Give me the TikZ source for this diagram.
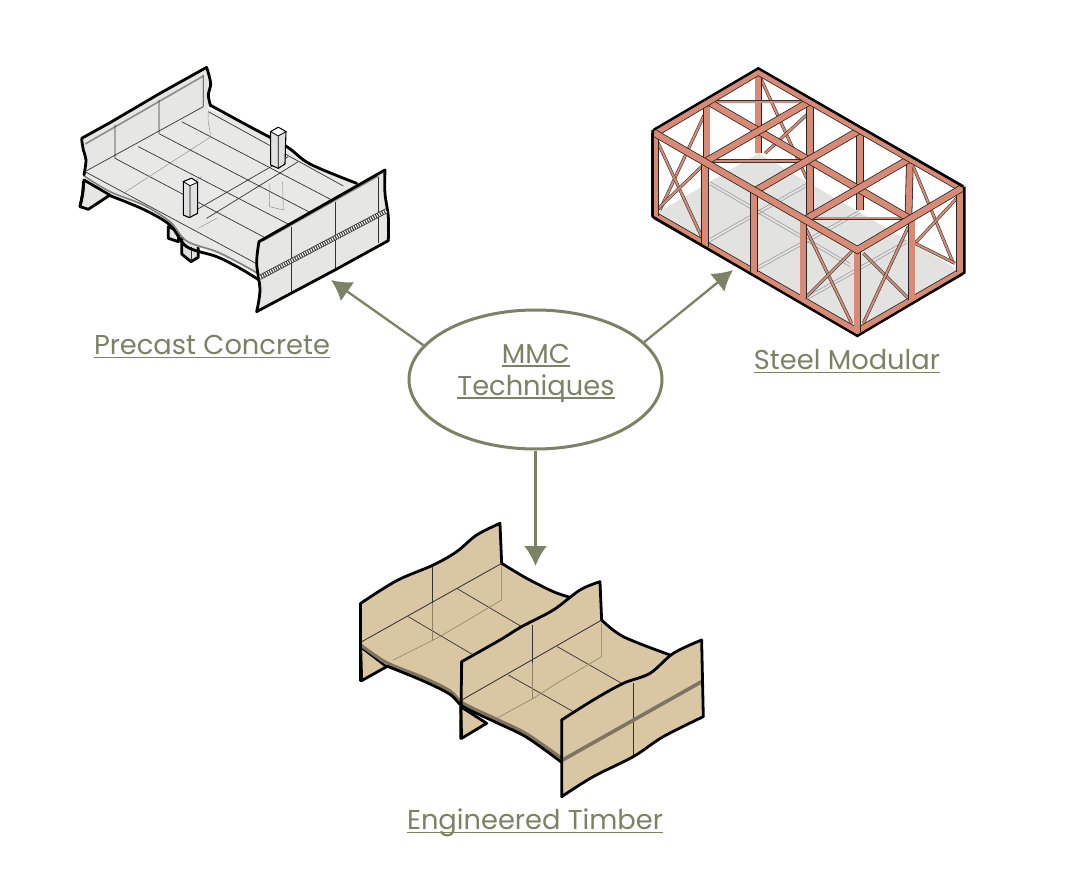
\documentclass[tikz,border=0pt]{standalone}
\usepackage{fontspec}
\setmainfont{Poppins}
\usetikzlibrary{positioning, shapes.geometric, arrows.meta}

\definecolor{olive}{HTML}{7C8265}
\definecolor{salmon}{HTML}{D98A74}
\definecolor{timber}{HTML}{D9C6A2}
\definecolor{band}{HTML}{7E7462}
\definecolor{concrete}{HTML}{E6E6E4}
\definecolor{floorgrey}{HTML}{E2E2E0}
\definecolor{grain}{HTML}{8F8263}

\newcommand{\ulabel}[1]{\leavevmode\setbox0\hbox{#1}\rlap{\rule[-3.6pt]{\wd0}{1.3pt}}\box0}

\tikzset{
	smoothline/.style={smooth, tension=0.55},
}

\begin{document}
\begin{tikzpicture}[
		x=1pt, y=-1pt,
		label/.style={text=olive, font=\fontsize{27.3}{32}\selectfont, align=center, inner sep=0pt},
		hub/.style={draw=olive, ellipse, line width=3pt, minimum width=253pt, minimum height=139pt, inner sep=0pt},
		link/.style={draw=olive, line width=2.3pt, -{Latex[length=20pt, width=23pt]}},
		zoomed/.style={x=0.3333pt, y=-0.3333pt},
		outline/.style={line width=2.8pt, line join=round, line cap=round},
		joint/.style={line width=0.7pt, draw=black!80},
		ghost/.style={line width=0.45pt, draw=black!45},
		woodghost/.style={line width=0.6pt, draw=grain},
		wall/.style={fill=concrete},
		slab/.style={fill=concrete!90!white},
		wood/.style={fill=timber},
		beam/.style={draw=black!85, line width=0.8pt, double=salmon, double distance=6pt},
		brace/.style={draw=black!80, line width=0.55pt, double=salmon, double distance=2pt},
	]
	\useasboundingbox (0,0) rectangle (1065,874);

	%% ── Precast concrete ───────────────────────────────────────────────
	\begin{scope}[shift={(60,50)}, zoomed]
		% under the slab
		\filldraw[wall, outline] (72,390) -- plot[smoothline] coordinates {(72,390) (68,430) (60,470)} -- (85,478) -- (150,435) -- cycle;
		\filldraw[wall, outline] (325,530) -- (325,565) -- (355,575) -- (358,545) -- cycle;
		\filldraw[fill=black!12, outline] (365,565) -- (365,612) -- (393,635) -- (415,622) -- (415,570) -- cycle;
		\draw[joint] (393,590) -- (393,635);
		% slab
		\fill[slab] (75,368) -- (430,170) -- plot[smoothline] coordinates {(430,170) (560,225) (680,290) (750,342) (900,405)} -- (597,640) -- (597,680) -- plot[smoothline] coordinates {(597,680) (540,645) (470,612) (380,575) (330,520) (250,470) (150,430) (72,378)} -- cycle;
		\draw[outline] plot[smoothline] coordinates {(450,165) (560,225) (680,290) (750,342) (890,400)};
		\draw[outline] plot[smoothline] coordinates {(150,437) (250,478) (330,525) (380,590) (470,620) (540,655) (597,690)};
		\draw[line width=1.6pt, draw=black!50] plot[smoothline] coordinates {(72,378) (150,425) (250,465) (330,515) (380,573) (470,605) (540,640) (597,672)};
		\draw[joint] (75,365) -- (597,645);
		\draw[joint] (165,325) -- (615,563);
		\draw[joint] (235,290) -- (690,525);
		\draw[joint] (295,250) -- (755,490);
		\draw[joint] (365,215) -- (825,455);
		\draw[joint] (445,185) -- (850,408);
		\draw[joint] (412,478) -- (685,320);
		\draw[joint] (440,505) -- (715,335);
		\draw[ghost] (190,430) -- (450,262) (445,190) .. controls (440,225) and (455,240) .. (450,262);
		\draw[ghost] (380,410) -- (425,380) (415,535) -- (470,505) (630,400) -- (628,470) -- (670,480) -- (668,395);
		% back wall
		\fill[wall] (65,268) -- (440,52) -- plot[smoothline] coordinates {(440,52) (452,100) (445,135) (452,168)} -- (75,368) -- (75,375) -- plot[smoothline] coordinates {(75,375) (78,330) (70,300) (65,268)} -- cycle;
		\draw[outline] plot[smoothline] coordinates {(70,395) (68,430) (60,470)};
		\draw[outline] plot[smoothline] coordinates {(72,375) (78,330) (70,300) (65,268)};
		\draw[outline] (65,265) -- (150,218) -- (300,130) -- (440,52);
		\draw[outline] plot[smoothline] coordinates {(440,52) (452,100) (445,135) (452,168)};
		\draw[line width=1.6pt, draw=black!45] (76,282) -- (430,78);
		\draw[joint] (430,75) -- (430,170) (297,150) -- (297,250) (165,225) -- (165,325) (75,365) -- (430,170);
		% columns
		\filldraw[fill=black!12, line width=1.1pt, line join=round] (632,245) -- (655,232) -- (678,245) -- (675,342) -- (655,355) -- (632,345) -- cycle;
		\fill[white] (632,245) -- (655,232) -- (678,245) -- (655,258) -- cycle;
		\draw[line width=0.8pt] (632,245) -- (655,232) -- (678,245) -- (655,258) -- cycle (655,258) -- (655,355);
		\filldraw[fill=black!12, line width=1.1pt, line join=round] (370,395) -- (395,385) -- (413,397) -- (413,490) -- (388,503) -- (370,495) -- cycle;
		\fill[white] (370,395) -- (395,385) -- (413,397) -- (390,407) -- cycle;
		\draw[line width=0.8pt] (370,395) -- (395,385) -- (413,397) -- (390,407) -- cycle (390,407) -- (390,503);
		% front wall
		\fill[wall] (597,575) -- (975,360) -- plot[smoothline] coordinates {(975,360) (975,430) (985,500) (985,572)} -- (590,785) -- plot[smoothline] coordinates {(590,785) (600,720) (590,640) (597,575)} -- cycle;
		\draw[joint] (695,530) -- (695,730) (825,455) -- (825,658) (955,380) -- (955,578);
		\draw[line width=1.6pt, draw=black!45] (610,572) -- (955,378);
		\draw[outline] (597,575) -- (975,360);
		\draw[outline] plot[smoothline] coordinates {(975,360) (975,430) (985,500) (985,572)};
		\draw[outline] (985,572) -- (825,660) -- (590,785);
		\draw[outline] plot[smoothline] coordinates {(590,785) (600,720) (590,640) (597,575)};
		\draw[line width=5pt, draw=black!75] (600,682) -- (980,482);
		\draw[line width=3.4pt, draw=white, dash pattern=on 1pt off 1.4pt] (600,682) -- (980,482);
	\end{scope}

	%% ── Steel modular ──────────────────────────────────────────────────
	\begin{scope}[shift={(630,50)}, zoomed]
		\fill[floorgrey] (385,310) -- (985,660) -- (682,840) -- (80,490) -- cycle;
		\draw[ghost] (240,395) -- (660,640) (240,405) -- (660,650) (240,565) -- (530,400) (240,575) -- (530,410);
		\draw[ghost] (380,650) -- (690,480) (380,660) -- (690,490) (530,740) -- (830,570) (530,750) -- (830,580);
		% back frame
		\draw[brace] (385,70) -- (530,385);
		\draw[brace] (535,190) -- (405,310);
		\draw[brace] (90,480) -- (225,190);
		\draw[beam] (385,65) -- (385,310);
		\draw[beam] (690,240) -- (690,480);
		\draw[beam] (540,154) -- (540,495);
		\draw[beam] (230,156) -- (230,320);
		\draw[beam] (840,326) -- (835,520);
		\draw[brace] (850,350) -- (970,640);
		\draw[brace] (985,440) -- (855,580);
		\draw[brace] (855,580) -- (975,640);
		\draw[brace] (240,155) -- (530,155);
		\draw[brace] (245,333) -- (530,333);
		\draw[brace] (550,505) -- (830,505);
		% top frame
		\draw[beam] (235,155) -- (840,507);
		\draw[beam] (225,336) -- (540,154);
		\draw[beam] (375,423) -- (690,240);
		\draw[beam] (525,509) -- (840,326);
		\draw[beam] (75,250) -- (385,65) -- (995,415);
		% end and long sides
		\draw[brace] (80,270) -- (215,560);
		\draw[brace] (80,480) -- (220,345);
		\draw[brace] (525,530) -- (665,820);
		\draw[brace] (530,740) -- (665,605);
		\draw[brace] (700,610) -- (835,745);
		\draw[brace] (835,530) -- (700,820);
		\draw[beam] (75,497) -- (682,845) -- (995,665);
		\draw[beam] (225,340) -- (225,590);
		\draw[beam] (372,425) -- (372,665);
		\draw[beam] (520,512) -- (520,745);
		\draw[beam] (845,505) -- (845,750);
		\draw[beam] (75,250) -- (75,497);
		\draw[beam] (990,415) -- (990,665);
		\draw[beam] (682,600) -- (682,845);
		\draw[beam] (75,250) -- (682,600) -- (995,415);
		\draw[line width=2.4pt, line join=miter] (70,240) -- (385,55) -- (1000,410);
		\draw[line width=2.4pt, line join=miter] (68,240) -- (68,500) -- (682,858) -- (1003,668) -- (1003,410);
	\end{scope}

	%% ── Engineered timber ──────────────────────────────────────────────
	\begin{scope}[shift={(340,510)}, zoomed]
		% under the slab
		\filldraw[wood, outline] (62,410) -- (65,512) -- (140,470) -- cycle;
		\filldraw[wood, outline] (362,590) -- (365,685) -- (440,640) -- cycle;
		% slab
		\fill[wood] (65,395) -- (485,160) -- plot[smoothline] coordinates {(485,160) (560,205) (640,245) (690,262)} -- (785,330) -- plot[smoothline] coordinates {(785,330) (850,380) (990,435)} -- (1000,500) -- (665,750) -- plot[smoothline] coordinates {(665,750) (560,680) (470,635) (370,585) (330,550) (250,510) (140,465) (62,405)} -- cycle;
		\draw[outline] plot[smoothline] coordinates {(485,160) (560,205) (640,245) (690,262)};
		\draw[outline] plot[smoothline] coordinates {(785,330) (850,380) (990,435)};
		\draw[line width=3.2pt, draw=band] plot[smoothline] coordinates {(62,405) (140,458) (250,503) (330,543) (370,580) (470,628) (560,672) (665,745)};
		\draw[outline] plot[smoothline] coordinates {(140,468) (250,513) (330,553) (370,590) (470,638) (560,682) (665,757)};
		\draw[joint] (65,395) -- (485,160) (205,320) -- (400,435) (350,235) -- (545,350);
		\draw[joint] (365,570) -- (785,330) (505,495) -- (700,605) (652,410) -- (845,520);
		\draw[woodghost] (485,165) -- (485,270) -- (350,350) -- (290,385) -- (160,450);
		\draw[woodghost] (785,340) -- (785,440) -- (650,520) -- (580,565) -- (470,625);
		% back wall
		\fill[wood] (62,280) -- plot[smoothline] coordinates {(62,280) (170,212) (280,165) (350,125) (410,75) (480,40)} -- (485,160) -- (65,395) -- cycle;
		\draw[outline] plot[smoothline] coordinates {(62,280) (170,212) (280,165) (350,125) (410,75) (480,40)} -- (485,160);
		\draw[outline] (62,280) -- (62,512);
		\draw[joint] (65,395) -- (485,160);
		\draw[joint] (278,170) -- (278,280);
		\draw[woodghost] (278,280) -- (278,390);
		% middle wall
		\fill[wood] (365,455) -- plot[smoothline] coordinates {(365,455) (480,390) (545,350) (640,300) (720,240) (780,215)} -- (785,330) -- (365,570) -- cycle;
		\draw[outline] plot[smoothline] coordinates {(365,455) (480,390) (545,350) (640,300) (720,240) (780,215)} -- (785,330);
		\draw[outline] (365,455) -- (362,685);
		\draw[joint] (578,345) -- (578,460);
		\draw[woodghost] (578,460) -- (578,568);
		\draw[joint] (365,570) -- (785,330);
		% front wall
		\fill[wood] (665,630) -- plot[smoothline] coordinates {(665,630) (760,570) (850,520) (930,490) (1000,430) (1085,390)} -- (1090,620) -- plot[smoothline] coordinates {(1090,620) (970,680) (880,740) (760,800) (665,860)} -- cycle;
		\draw[joint] (880,520) -- (880,740);
		\draw[line width=3.6pt, draw=band] (668,750) -- (1085,515);
		\draw[outline] plot[smoothline] coordinates {(665,630) (760,570) (850,520) (930,490) (1000,430) (1085,390)} -- (1090,620);
		\draw[outline] plot[smoothline] coordinates {(1090,620) (970,680) (880,740) (760,800) (665,860)} -- (665,630);
	\end{scope}

	%% ── Hub, labels and arrows ─────────────────────────────────────────
	\node[hub] (mmc) at (535.5,379.5) {};
	\node[label] (mmctext) at (536,373) {\ulabel{MMC}\\\ulabel{Techniques}};
	\node[label] (precast) at (212,347) {\ulabel{Precast Concrete}};
	\node[label] (steel) at (847,361) {\ulabel{Steel Modular}};
	\node[label] (timberlabel) at (535,823) {\ulabel{Engineered Timber}};

	\coordinate (precasttip) at (331,280);
	\coordinate (steeltip) at (733,270);
	\coordinate (timbertip) at (535.5,566);

	\draw[link] (mmc.163) -- (precasttip);
	\draw[link] (mmc.19) -- (steeltip);
	\draw[link] (mmc.south) -- (timbertip);
\end{tikzpicture}
\end{document}
